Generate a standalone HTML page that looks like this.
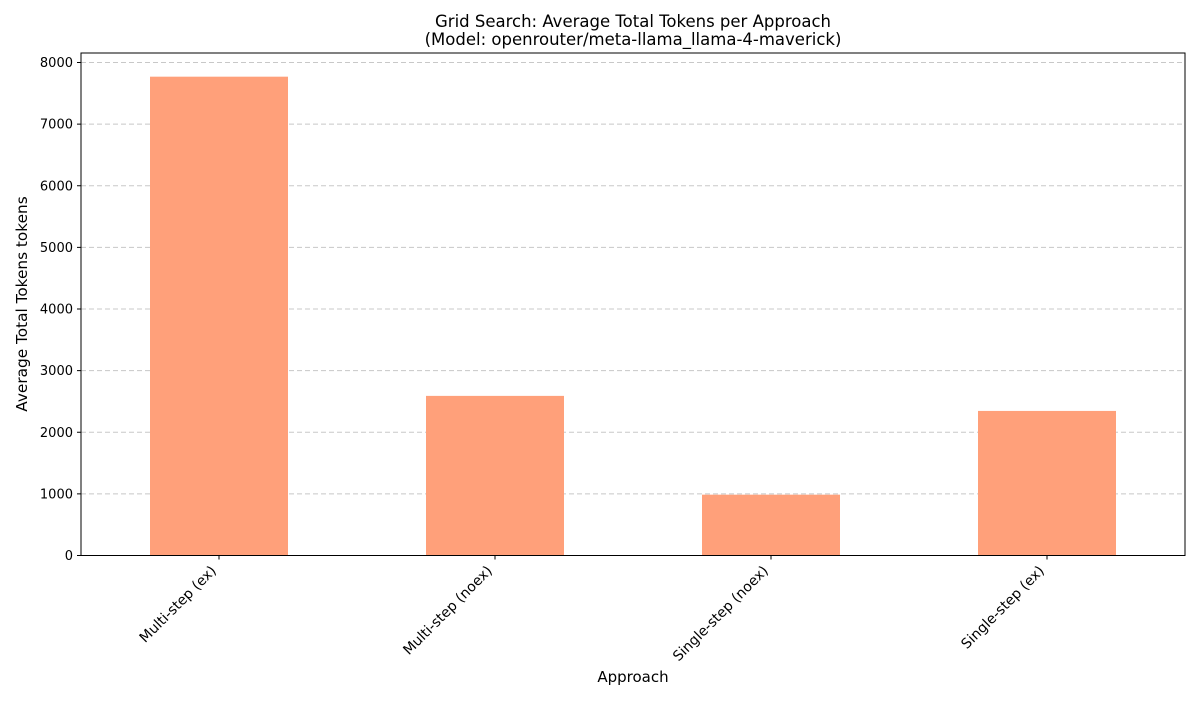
<!DOCTYPE html>
<html><head><meta charset="utf-8"><style>
body{margin:0;background:#fff;font-family:"Liberation Sans","DejaVu Sans",sans-serif}
svg text{font-family:"DejaVu Sans","Liberation Sans",sans-serif}
</style></head><body>
<svg id="chart" width="1200" height="700" xmlns="http://www.w3.org/2000/svg">
<text x="633" y="27" text-anchor="middle" font-size="16.5">Grid Search: Average Total Tokens per Approach</text>
<text x="633" y="45" text-anchor="middle" font-size="16.5">(Model: openrouter/meta-llama_llama-4-maverick)</text>
<g id="grid"></g><g id="bars"></g><g id="axes"></g>
<text x="633" y="682" text-anchor="middle" font-size="15">Approach</text>
<text transform="translate(27,304) rotate(-90)" text-anchor="middle" font-size="15.3">Average Total Tokens tokens</text>
</svg>
<script>
const categories=["Multi-step (ex)","Multi-step (noex)","Single-step (noex)","Single-step (ex)"];
const values=[7770,2590,987,2346];
const yTicks=[0,1000,2000,3000,4000,5000,6000,7000,8000];
const L=81,R=1185,T=53,B=555.5;
const y=v=>B-v*(493/8000);
const step=(R-L)/categories.length;
const xc=i=>L+step*(i+0.5);
const bw=step*0.5;
const NS="http://www.w3.org/2000/svg";
function mk(t,a,p){const e=document.createElementNS(NS,t);for(const k in a)e.setAttribute(k,a[k]);p.appendChild(e);return e;}
const g=document.getElementById('grid'),b=document.getElementById('bars'),ax=document.getElementById('axes');
yTicks.forEach(v=>{
 const l=mk('line',{x1:L,x2:R,y1:y(v),y2:y(v),stroke:'#c8c8c8','stroke-dasharray':'5,3'},g);
 
 
 const tk=mk('line',{x1:L-4,x2:L,y1:y(v),y2:y(v),stroke:'#000'},ax);
 
 
 const t=mk('text',{x:L-8,y:y(v)+4.5,'text-anchor':'end','font-size':13},ax);
 t.textContent=v;
 
 
});
categories.forEach((c,i)=>{
 const r=mk('rect',{x:xc(i)-bw/2,y:y(values[i]),width:bw,height:B-y(values[i]),fill:'#ffa07a'},b);
 
 
 const tk=mk('line',{x1:xc(i),x2:xc(i),y1:B,y2:B+4,stroke:'#000'},ax);
 
 
 const tx=xc(i)-2,ty=B+16;
 const t=mk('text',{x:tx,y:ty,'text-anchor':'end','font-size':14,transform:`rotate(-45 ${tx} ${ty})`},ax);
 t.textContent=c;
 
 
});
const f=mk('rect',{x:L,y:T,width:R-L,height:B-T,fill:'none',stroke:'#000','stroke-width':1},ax);


</script>
</body></html>
